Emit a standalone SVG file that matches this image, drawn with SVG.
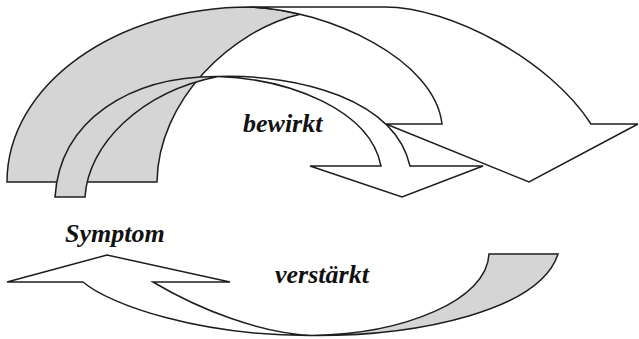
<svg xmlns="http://www.w3.org/2000/svg" width="639" height="339" viewBox="0 0 639 339">
<style>
.band{stroke:#1e1e1e;stroke-width:1.5;stroke-linejoin:miter}
.white{fill:#ffffff}
.gray{fill:#d5d5d5}
.lbl{font-family:"Liberation Serif","Times New Roman",serif;font-weight:bold;font-style:italic;font-size:26px;fill:#111}
</style>
<rect width="639" height="339" fill="#ffffff"/>
<g id="arrow-big">
<path class="band gray" d="M7,182 C7,85 116,7 250,7 C266,7.6 283,10.08 300,14.2 C232,30 158,100 157,182 Z"/>
<path class="band white" d="M250,7 L385,7 C450,7 550,60 591,124 L638,124 L529,182 L386,124 L442,124 C435,60 330,10 250,7 Z"/>
</g>
<g id="arrow-medium">
<path class="band gray" d="M55,197 C60,120 130,76 218,76.5 C140,92 88,145 85,197 Z"/>
<path class="band white" d="M218,76.5 C300,74 395,100 410,166 L483,166 L402,197 L310,166 L381,166 C370,110 290,79 218,76.5 Z"/>
</g>
<g id="arrow-symptom">
<path class="band white" d="M312,335.5 C260,333 200,310 153,282 L230,282 L107,255 L7,282 L83,282 C110,305 200,336 312,335.5 Z"/>
<path class="band gray" d="M312,335.5 C420,336 540,310 558,254 L489,254 C487,300 405,334 312,335.5 Z"/>
</g>
<g id="labels">
<text class="lbl" x="243" y="132">bewirkt</text>
<text class="lbl" x="65" y="242">Symptom</text>
<text class="lbl" x="275" y="283">verstärkt</text>
</g>
</svg>
